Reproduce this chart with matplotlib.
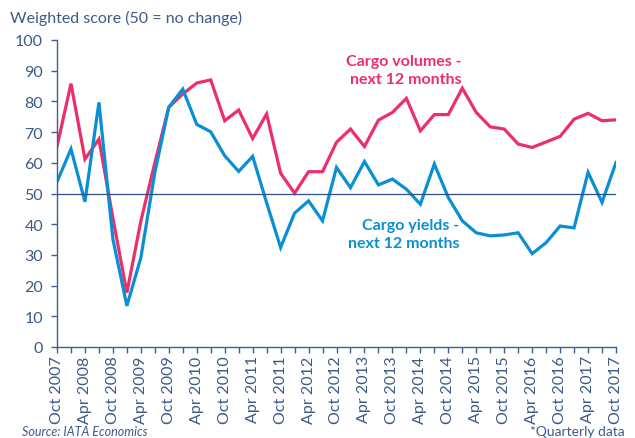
import matplotlib
matplotlib.use("Agg")
import matplotlib.pyplot as plt
import numpy as np

plt.rcParams['font.family'] = ['Lato', 'DejaVu Sans']

# Quarterly data, Oct 2007 .. Oct 2017
quarters = []
for yr in range(2007, 2018):
    for m in ["Jan", "Apr", "Jul", "Oct"]:
        quarters.append(f"{m} {yr}")
quarters = quarters[quarters.index("Oct 2007"):quarters.index("Oct 2017") + 1]

cargo_volumes = [65.3, 85.8, 61.2, 67.7, 42.0, 17.7, 41.0, 60.0, 78.1, 82.4,
                 86.0, 87.0, 73.7, 77.2, 67.9, 75.9, 56.6, 50.1, 57.1, 57.1,
                 66.7, 71.0, 65.3, 73.9, 76.4, 81.0, 70.4, 75.7, 75.7, 84.3,
                 76.4, 71.7, 71.0, 66.1, 65.0, 66.8, 68.6, 74.2, 76.1, 73.7,
                 74.0]
cargo_yields = [53.8, 64.5, 47.3, 79.7, 35.1, 13.4, 29.1, 56.8, 78.1, 84.0,
                72.5, 70.1, 62.3, 57.2, 62.1, 47.0, 32.4, 43.6, 47.6, 41.1,
                58.5, 51.9, 60.4, 52.8, 54.7, 51.4, 46.5, 59.6, 48.7, 41.1,
                37.2, 36.2, 36.5, 37.2, 30.4, 34.0, 39.4, 38.8, 56.9, 47.1,
                60.1]

tick_labels = quarters[::2]

RED = "#EC2F6B"
BLUE = "#0A8FD4"
AXC = "#41608F"
TXT = "#3D5A87"

fig = plt.figure(figsize=(6.35, 4.39), dpi=100)
ax = fig.add_axes([57/635, 1 - 348/439, (616-57)/635, (348-41)/439])

x = np.arange(len(quarters))
ax.plot(x, cargo_volumes, color=RED, lw=2.3, solid_joinstyle='miter')
ax.plot(x, cargo_yields, color=BLUE, lw=2.3, solid_joinstyle='miter')
ax.axhline(50, color="#2F4F8A", lw=0.9)

ax.set_xlim(0, len(quarters) - 1)
ax.set_ylim(0, 100)
ax.set_yticks(np.arange(0, 101, 10))
ax.set_xticks(x, minor=True)
ax.set_xticks(x[::2])
ax.set_xticklabels(tick_labels, rotation=90)

for s in ["top", "right"]:
    ax.spines[s].set_visible(False)
for s in ["left", "bottom"]:
    ax.spines[s].set_color(AXC)
    ax.spines[s].set_linewidth(1.0)
ax.tick_params(axis='both', colors=AXC, labelcolor=TXT, labelsize=11.5, length=4, width=1)
ax.tick_params(axis='x', which='minor', colors=AXC, length=4, width=1)
ax.tick_params(axis='x', pad=2)
ax.tick_params(axis='y', pad=6)

ax.text(0.0, 1.0, "", transform=ax.transAxes)
fig.text(10/635, 1 - 18/439, "Weighted score (50 = no change)", color=TXT,
         fontsize=11.5, ha='left', va='center')

ax.annotate("Cargo volumes -\nnext 12 months", xy=(462/635, 1 - 71/439),
            xycoords='figure fraction', ha='right', va='center',
            multialignment='right', color=RED, fontsize=11.5,
            fontweight='bold', linespacing=1.35)
ax.annotate("Cargo yields -\nnext 12 months", xy=(459/635, 1 - 235/439),
            xycoords='figure fraction', ha='right', va='center',
            multialignment='right', color=BLUE, fontsize=11.5,
            fontweight='bold', linespacing=1.35)

fig.text(22/635, 1 - 432/439, "Source: IATA Economics", color=TXT,
         fontsize=9, style='italic', ha='left', va='center')
fig.text(625/635, 1 - 432/439, "*Quarterly data", color=TXT,
         fontsize=10, ha='right', va='center')

fig.savefig("out.png", dpi=100)
